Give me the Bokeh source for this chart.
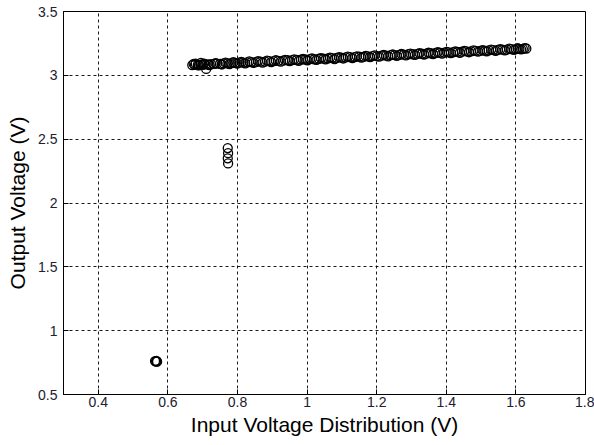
from bokeh.plotting import figure
from bokeh.embed import file_html
from bokeh.resources import INLINE
from bokeh.models import FixedTicker, Range1d

# Main band of points (first pass)
band_x = [0.670, 0.678, 0.686, 0.693, 0.700, 0.708, 0.716, 0.724, 0.733, 0.741,
          0.750, 0.760, 0.771, 0.782, 0.793, 0.805, 0.816, 0.828, 0.840, 0.853,
          0.866, 0.879, 0.891, 0.904, 0.917, 0.931, 0.944, 0.957, 0.970, 0.982,
          0.995, 1.008, 1.021, 1.034, 1.047, 1.060, 1.072, 1.085, 1.098, 1.111,
          1.124, 1.137, 1.150, 1.162, 1.175, 1.188, 1.201, 1.214, 1.227, 1.240,
          1.252, 1.265, 1.278, 1.291, 1.304, 1.317, 1.330, 1.342, 1.355, 1.368,
          1.381, 1.394, 1.407, 1.420, 1.432, 1.445, 1.458, 1.471, 1.484, 1.497,
          1.510, 1.522, 1.535, 1.548, 1.561, 1.574, 1.587, 1.600, 1.610, 1.620,
          1.630, 0.680, 0.695, 0.710]
band_y = [3.080, 3.082, 3.081, 3.084, 3.083, 3.086, 3.085, 3.088, 3.089, 3.091,
          3.090, 3.093, 3.094, 3.096, 3.097, 3.099, 3.100, 3.102, 3.103, 3.104,
          3.107, 3.108, 3.111, 3.112, 3.114, 3.115, 3.118, 3.119, 3.120, 3.123,
          3.124, 3.127, 3.126, 3.130, 3.131, 3.132, 3.135, 3.136, 3.139, 3.140,
          3.142, 3.143, 3.146, 3.145, 3.149, 3.150, 3.151, 3.154, 3.155, 3.158,
          3.158, 3.161, 3.162, 3.165, 3.165, 3.168, 3.169, 3.170, 3.173, 3.174,
          3.177, 3.178, 3.180, 3.181, 3.184, 3.185, 3.187, 3.188, 3.191, 3.192,
          3.194, 3.195, 3.198, 3.199, 3.201, 3.202, 3.205, 3.206, 3.208, 3.208,
          3.210, 3.092, 3.097, 3.050]

# Main band of points (second pass, interleaved)
band2_x = [0.674, 0.689, 0.704, 0.720, 0.737, 0.755, 0.766, 0.777, 0.788, 0.799,
           0.811, 0.822, 0.834, 0.846, 0.859, 0.872, 0.885, 0.897, 0.910, 0.924,
           0.937, 0.950, 0.963, 0.976, 0.988, 1.001, 1.014, 1.027, 1.040, 1.053,
           1.066, 1.079, 1.092, 1.104, 1.117, 1.130, 1.143, 1.156, 1.168, 1.181,
           1.194, 1.207, 1.220, 1.233, 1.246, 1.258, 1.271, 1.284, 1.297, 1.310,
           1.323, 1.336, 1.349, 1.362, 1.375, 1.388, 1.401, 1.413, 1.426, 1.439,
           1.452, 1.465, 1.478, 1.491, 1.504, 1.516, 1.529, 1.542, 1.555, 1.568,
           1.581, 1.594, 1.605, 1.615, 1.625]
band2_y = [3.090, 3.078, 3.092, 3.080, 3.095, 3.085, 3.100, 3.088, 3.103, 3.092,
           3.106, 3.094, 3.109, 3.097, 3.112, 3.100, 3.115, 3.104, 3.118, 3.107,
           3.121, 3.111, 3.125, 3.114, 3.128, 3.118, 3.132, 3.121, 3.135, 3.125,
           3.139, 3.128, 3.142, 3.132, 3.146, 3.135, 3.149, 3.139, 3.152, 3.142,
           3.156, 3.146, 3.160, 3.149, 3.163, 3.153, 3.167, 3.156, 3.170, 3.160,
           3.174, 3.163, 3.177, 3.167, 3.181, 3.170, 3.184, 3.174, 3.188, 3.177,
           3.191, 3.181, 3.195, 3.185, 3.198, 3.188, 3.202, 3.192, 3.205, 3.196,
           3.209, 3.200, 3.212, 3.204, 3.213]

# Mid cluster
mid_x = [0.772, 0.773, 0.772, 0.773]
mid_y = [2.43, 2.39, 2.35, 2.31]

# Low cluster
low_x = [0.563, 0.566, 0.569, 0.567]
low_y = [0.762, 0.758, 0.757, 0.763]

x_ticks = [0.4, 0.6, 0.8, 1.0, 1.2, 1.4, 1.6, 1.8]
y_ticks = [0.5, 1.0, 1.5, 2.0, 2.5, 3.0, 3.5]

p = figure(width=594, height=445, output_backend="svg", toolbar_location=None,
           x_range=Range1d(0.3, 1.8), y_range=Range1d(0.5, 3.5),
           min_border_left=63, min_border_right=9, min_border_top=11, min_border_bottom=51)

for xs, ys in [(band_x, band_y), (band2_x, band2_y), (mid_x, mid_y), (low_x, low_y)]:
    p.scatter(xs, ys, marker="circle", size=9, fill_color=None,
              line_color="black", line_width=1.3)

p.xaxis.ticker = FixedTicker(ticks=x_ticks)
p.yaxis.ticker = FixedTicker(ticks=y_ticks)
p.xaxis.major_label_overrides = {1.0: "1"}
p.yaxis.major_label_overrides = {1.0: "1", 2.0: "2", 3.0: "3"}

for ax in (p.xaxis, p.yaxis):
    ax.axis_line_color = "black"
    ax.major_tick_line_color = "black"
    ax.major_tick_in = 5
    ax.major_tick_out = 0
    ax.minor_tick_line_color = None
    ax.major_label_text_font = "Liberation Sans"
    ax.major_label_text_font_size = "14px"
    ax.major_label_text_color = "#202030"
    ax.axis_label_text_font = "Liberation Sans"
    ax.axis_label_text_font_size = "21px"
    ax.axis_label_text_font_style = "normal"
    ax.axis_label_text_color = "black"

p.xaxis.axis_label = "Input Voltage Distribution (V)"
p.yaxis.axis_label = "Output Voltage (V)"
p.xaxis.major_label_standoff = 2
p.yaxis.major_label_standoff = 6
p.xaxis.axis_label_standoff = 3
p.yaxis.axis_label_standoff = 6

p.grid.grid_line_color = "black"
p.grid.grid_line_dash = "3 3"
p.grid.grid_line_alpha = 0.9
p.outline_line_color = "black"
p.outline_line_alpha = 1.0
p.background_fill_color = "white"
p.border_fill_color = "white"

open("out.html", "w").write(file_html(p, INLINE))
